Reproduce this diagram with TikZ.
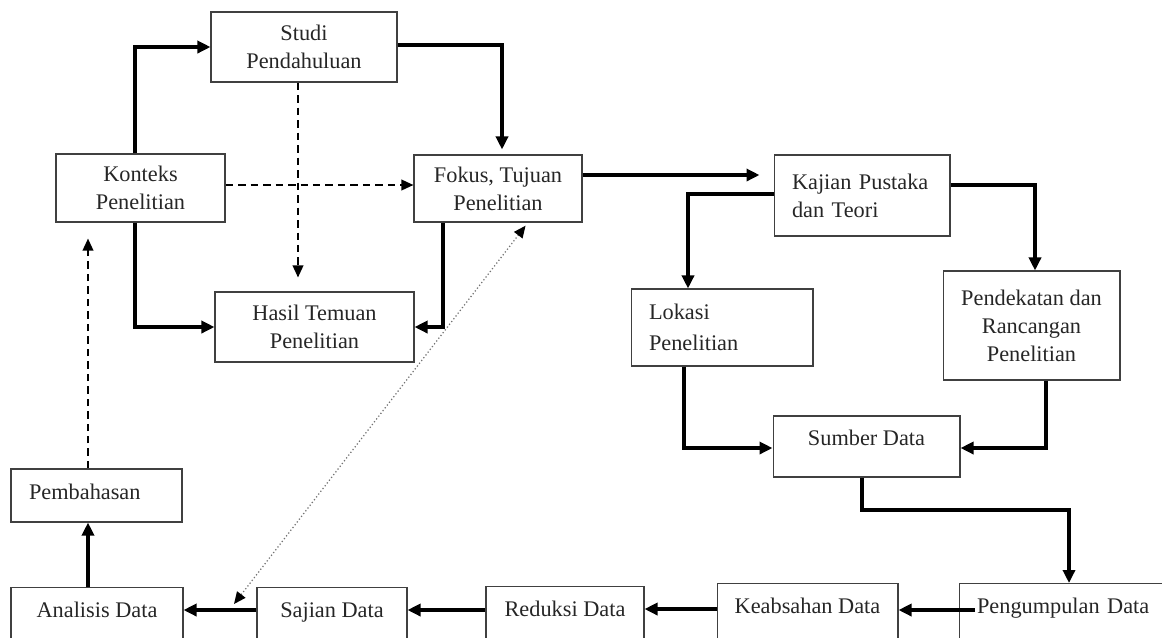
\documentclass[tikz,border=0pt]{standalone}
\usepackage{fontspec}
\setmainfont{Liberation Serif}
\usetikzlibrary{arrows.meta}
\begin{document}
\begin{tikzpicture}[x=0.02cm,y=-0.02cm,
  box/.style={draw=black!75, line width=0.6pt, inner sep=0pt, align=center, text=black!85, font=\fontsize{12.7}{15.9}\selectfont},
  one/.style={text height=0.313cm, text depth=#1},
  low/.style={anchor=north, minimum height=1.2cm, one=0.3cm},
  thk/.style={line width=2.3pt, -{Triangle[length=2.6mm,width=2.4mm]}},
  dsh/.style={line width=1.1pt, dash pattern=on 0.15cm off 0.1cm, -{Triangle[length=2.4mm,width=2.1mm]}},
  dot/.style={line width=0.7pt, draw=black!55, dash pattern=on 0.7pt off 1.3pt,
     {Triangle[length=2.4mm,width=2.1mm,color=black]}-{Triangle[length=2.4mm,width=2.1mm,color=black]}}
]
\useasboundingbox (0,0) rectangle (1162,637);
\clip (0,0) rectangle (1162,637);

% boxes
\node[box, minimum width=3.72cm, minimum height=1.40cm] (studi) at (304,47) {Studi\\Pendahuluan};
\node[box, minimum width=3.38cm, minimum height=1.36cm] (konteks) at (140.5,188) {Konteks\\Penelitian};
\node[box, minimum width=3.36cm, minimum height=1.34cm] (fokus) at (498,188.5) {Fokus, Tujuan\\Penelitian};
\node[box, minimum width=3.98cm, minimum height=1.40cm] (hasil) at (314.5,327) {Hasil Temuan\\Penelitian};
\node[box, minimum width=3.52cm, minimum height=1.62cm, text width=2.80cm, align=left] (kajian) at (862,195.5) {\mbox{Kajian Pustaka}\\dan Teori};
\node[box, minimum width=3.64cm, minimum height=1.54cm, text width=2.92cm, align=left] (lokasi) at (722,327.5) {Lokasi\\[2pt]Penelitian};
\node[box, minimum width=3.54cm, minimum height=2.18cm] (pendekatan) at (1031.5,325.5) {Pendekatan dan\\Rancangan\\Penelitian};
\node[box, minimum width=3.74cm, minimum height=1.22cm, one=0.357cm] (sumber) at (866.5,446.5) {Sumber Data};
\node[box, low, minimum width=4.60cm, text width=3.88cm, align=left] (pengumpulan) at (1074,583) {Pengumpulan Data};
\node[box, low, minimum width=3.62cm] (keabsahan) at (807.5,583) {Keabsahan Data};
\node[box, low, minimum width=3.16cm] (reduksi) at (565,586) {Reduksi Data};
\node[box, low, minimum width=3.00cm] (sajian) at (332,587) {Sajian Data};
\node[box, low, minimum width=3.44cm] (analisis) at (97,587) {Analisis Data};
\node[box, minimum width=3.42cm, minimum height=1.06cm, text width=2.70cm, align=left, one=0.157cm] (pembahasan) at (96.5,495.5) {Pembahasan};

% connectors
\draw[thk] (135,0 |- konteks.north) |- (studi.west);
\draw[thk] (135,0 |- konteks.south) |- (hasil.west);
\draw[dsh] (konteks.east |- 0,185) -- (fokus.west |- 0,185);
\draw[dsh, shorten >=0.28cm] (298,0 |- studi.south) -- (298,0 |- hasil.north);
\draw[thk, shorten >=0.1cm] (studi.east |- 0,45) -| (502,0 |- fokus.north);
\draw[thk] (443,0 |- fokus.south) |- (hasil.east);
\draw[thk, shorten >=0.28cm] (fokus.east |- 0,175) -- (kajian.west |- 0,175);
\draw[thk] (kajian.west |- 0,194) -| (688,0 |- lokasi.north);
\draw[thk] (kajian.east |- 0,185) -| (1035,0 |- pendekatan.north);
\draw[thk] (684,0 |- lokasi.south) |- (sumber.west |- 0,448);
\draw[thk] (1046,0 |- pendekatan.south) |- (sumber.east |- 0,448);
\draw[thk] (862,0 |- sumber.south) |- (1069,510) -- (1069,0 |- pengumpulan.north);
\draw[thk] (975,610) -- (keabsahan.east |- 0,610);
\draw[thk] (keabsahan.west |- 0,609) -- (reduksi.east |- 0,609);
\draw[thk] (reduksi.west |- 0,610) -- (sajian.east |- 0,610);
\draw[thk] (sajian.west |- 0,610) -- (analisis.east |- 0,610);
\draw[thk] (88,0 |- analisis.north) -- (88,0 |- pembahasan.south);
\draw[dsh, shorten >=0.32cm] (88,0 |- pembahasan.north) -- (88,0 |- konteks.south);
\coordinate (dd) at (234,604);
\draw[dot, shorten >=0.08cm] (dd) -- (528,0 |- fokus.south);
\end{tikzpicture}
\end{document}
